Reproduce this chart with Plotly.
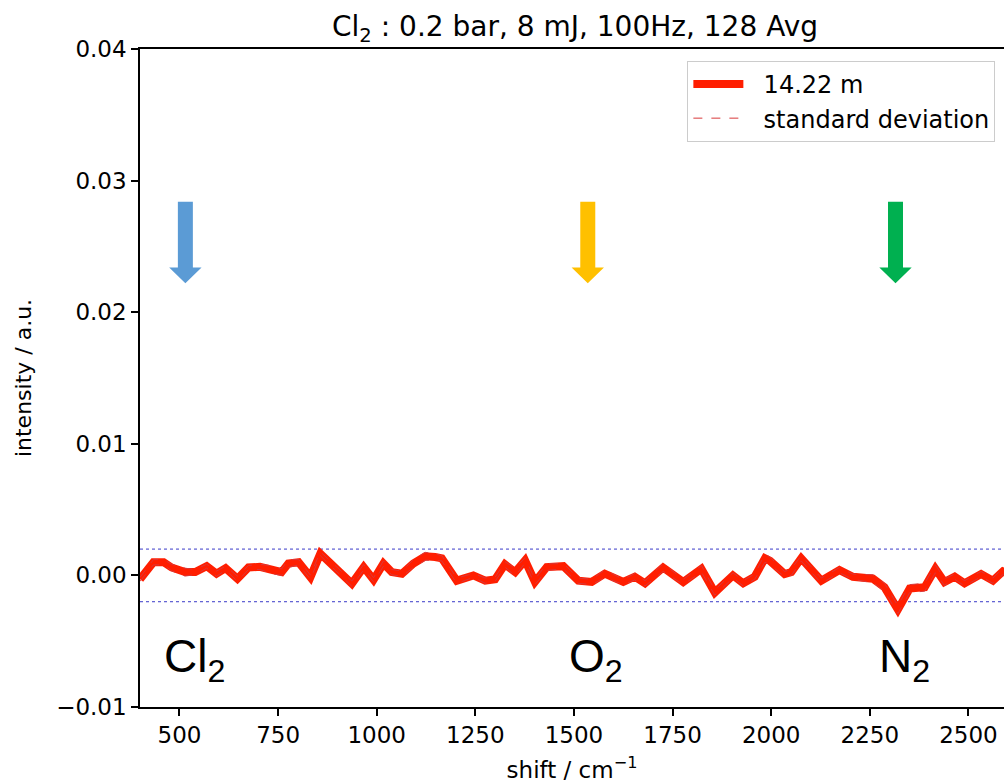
import plotly.graph_objects as go

# ---- data ----
shift = [400, 434, 460, 480, 514, 540, 569, 594, 617, 647, 675, 704, 734, 759, 776,
         802, 832, 857, 937, 967, 992, 1017, 1038, 1064, 1093, 1123, 1148, 1165,
         1203, 1245, 1275, 1300, 1325, 1351, 1376, 1401, 1431, 1473, 1511, 1545,
         1578, 1625, 1654, 1680, 1726, 1777, 1823, 1857, 1903, 1929, 1958, 1984,
         1997, 2034, 2051, 2076, 2127, 2173, 2207, 2241, 2258, 2287, 2321, 2351,
         2389, 2416, 2439, 2465, 2490, 2532, 2562, 2587, 2610]
intensity = [-0.0003, 0.0010, 0.0010, 0.0006, 0.00025, 0.00025, 0.0007, 0.00013, 0.00055,
             -0.00025, 0.0006, 0.00065, 0.00043, 0.00025, 0.0009,
             0.0010, -0.00013, 0.00165, -0.00063, 0.00063, -0.00033, 0.0009, 0.00025,
             0.00013, 0.0009, 0.00145, 0.0014, 0.0013,
             -0.0004, 0.0, -0.0004, -0.0003, 0.00084, 0.00025, 0.00114, -0.0005,
             0.00063, 0.0007, -0.0004, -0.0005,
             0.00013, -0.0005, -0.0001, -0.0006, 0.0006, -0.0005, 0.0005, -0.0013,
             0.0, -0.0006, -0.0001, 0.0013,
             0.0011, 0.0001, 0.00025, 0.0013, -0.0004, 0.0004, -0.0001, -0.0002,
             -0.00025, -0.0009, -0.0026, -0.0010,
             -0.0009, 0.0005, -0.0005, -0.0001, -0.0006, 0.0001, -0.0004, 0.0003, 0.0000]
std_dev = [0.00015, 0.0002, 0.0002, 0.00025, 0.0003, 0.0002, 0.00015, 0.0002, 0.00015,
           0.0002, 0.00015, 0.0002, 0.0003, 0.00025, 0.0003,
           0.0002, 0.00015, 0.00015, 0.0002, 0.0002, 0.00015, 0.0002, 0.0002,
           0.0002, 0.0003, 0.0003, 0.00025, 0.0002,
           0.0002, 0.00015, 0.0002, 0.00015, 0.0002, 0.0003, 0.0002, 0.0002,
           0.00025, 0.0002, 0.0002, 0.0002,
           0.0003, 0.0002, 0.00025, 0.0002, 0.0003, 0.0002, 0.00025, 0.0002,
           0.0002, 0.0002, 0.0002, 0.0003,
           0.0003, 0.0002, 0.00025, 0.0002, 0.0002, 0.0002, 0.0002, 0.0003,
           0.0003, 0.0003, 0.0003, 0.0003,
           0.0003, 0.0003, 0.00025, 0.0002, 0.0002, 0.0002, 0.0002, 0.00025, 0.0002]
threshold = [0.002, -0.002]

species = ["Cl<sub>2</sub>", "O<sub>2</sub>", "N<sub>2</sub>"]
species_shift = [515, 1535, 2315]
arrow_colors = ["#5b9bd5", "#ffc000", "#00b050"]

x_ticks = [500, 750, 1000, 1250, 1500, 1750, 2000, 2250, 2500]
y_ticks = [-0.01, 0.0, 0.01, 0.02, 0.03, 0.04]
y_ticktext = ["\u22120.01", "0.00", "0.01", "0.02", "0.03", "0.04"]

FONT = "DejaVu Sans"
RED = "#ff1e00"
PAD = "\u00a0\u00a0"

fig = go.Figure()
fig.add_trace(go.Scatter(x=shift, y=intensity, mode="lines", name=PAD + "14.22 m",
                         line=dict(color=RED, width=8)))
upper = [m + s for m, s in zip(intensity, std_dev)]
lower = [m - s for m, s in zip(intensity, std_dev)]
fig.add_trace(go.Scatter(x=shift, y=upper, mode="lines",
                         name=PAD + "standard deviation",
                         line=dict(color="#d9383a", width=1, dash="dash")))
fig.add_trace(go.Scatter(x=shift, y=lower, mode="lines", name="standard deviation",
                         showlegend=False,
                         line=dict(color="#d9383a", width=1, dash="dash")))

for t in threshold:
    fig.add_shape(type="line", xref="paper", x0=0, x1=1, yref="y", y0=t, y1=t,
                  line=dict(color="#3a3ac8", width=1, dash="dot"), layer="below")

# arrows (shaft + head) and species labels
for xc, col, lab in zip(species_shift, arrow_colors, species):
    hw, hh = 19, 41
    yt, yn, yp = 0.0284, 0.0234, 0.0222
    path = (f"M {xc-hw},{yt} L {xc+hw},{yt} L {xc+hw},{yn} L {xc+hh},{yn} "
            f"L {xc},{yp} L {xc-hh},{yn} L {xc-hw},{yn} Z")
    fig.add_shape(type="path", path=path, xref="x", yref="y",
                  fillcolor=col, line=dict(width=0))
    fig.add_annotation(x=xc + 22, y=-0.0064, xref="x", yref="y", text=lab,
                       showarrow=False, font=dict(family="Liberation Sans", size=46,
                                                  color="black"))

fig.update_layout(
    width=1004, height=783,
    margin=dict(l=140, r=0, t=49, b=76),
    paper_bgcolor="white", plot_bgcolor="white",
    font=dict(family=FONT, color="black"),
    title=dict(text="Cl<sub>2</sub> : 0.2 bar, 8 mJ, 100Hz, 128 Avg",
               x=(575) / 1004, xanchor="center", y=1 - 26 / 783, yanchor="middle",
               font=dict(family=FONT, size=28)),
    showlegend=True,
    legend=dict(x=0.99, xanchor="right", y=0.982, yanchor="top",
                bgcolor="white", bordercolor="#cccccc", borderwidth=1,
                font=dict(family=FONT, size=24), tracegroupgap=0, itemwidth=50),
)
fig.update_xaxes(range=[400, 2590], tickvals=x_ticks,
                 ticks="outside", ticklen=7, tickwidth=1.5, tickcolor="black",
                 showline=True, linecolor="black", linewidth=1.5, mirror=True,
                 showgrid=False, zeroline=False,
                 tickfont=dict(family=FONT, size=23),
                 title=dict(text="shift / cm<sup>\u22121</sup>", standoff=15,
                            font=dict(family=FONT, size=23)))
fig.update_yaxes(range=[-0.01, 0.04], tickvals=y_ticks, ticktext=y_ticktext,
                 ticks="outside", ticklen=7, tickwidth=1.5, tickcolor="black",
                 showline=True, linecolor="black", linewidth=1.5,
                 showgrid=False, zeroline=False,
                 tickfont=dict(family=FONT, size=23),
                 title=dict(text="intensity / a.u.", standoff=18,
                            font=dict(family=FONT, size=22)))

fig.write_html("out.html")
